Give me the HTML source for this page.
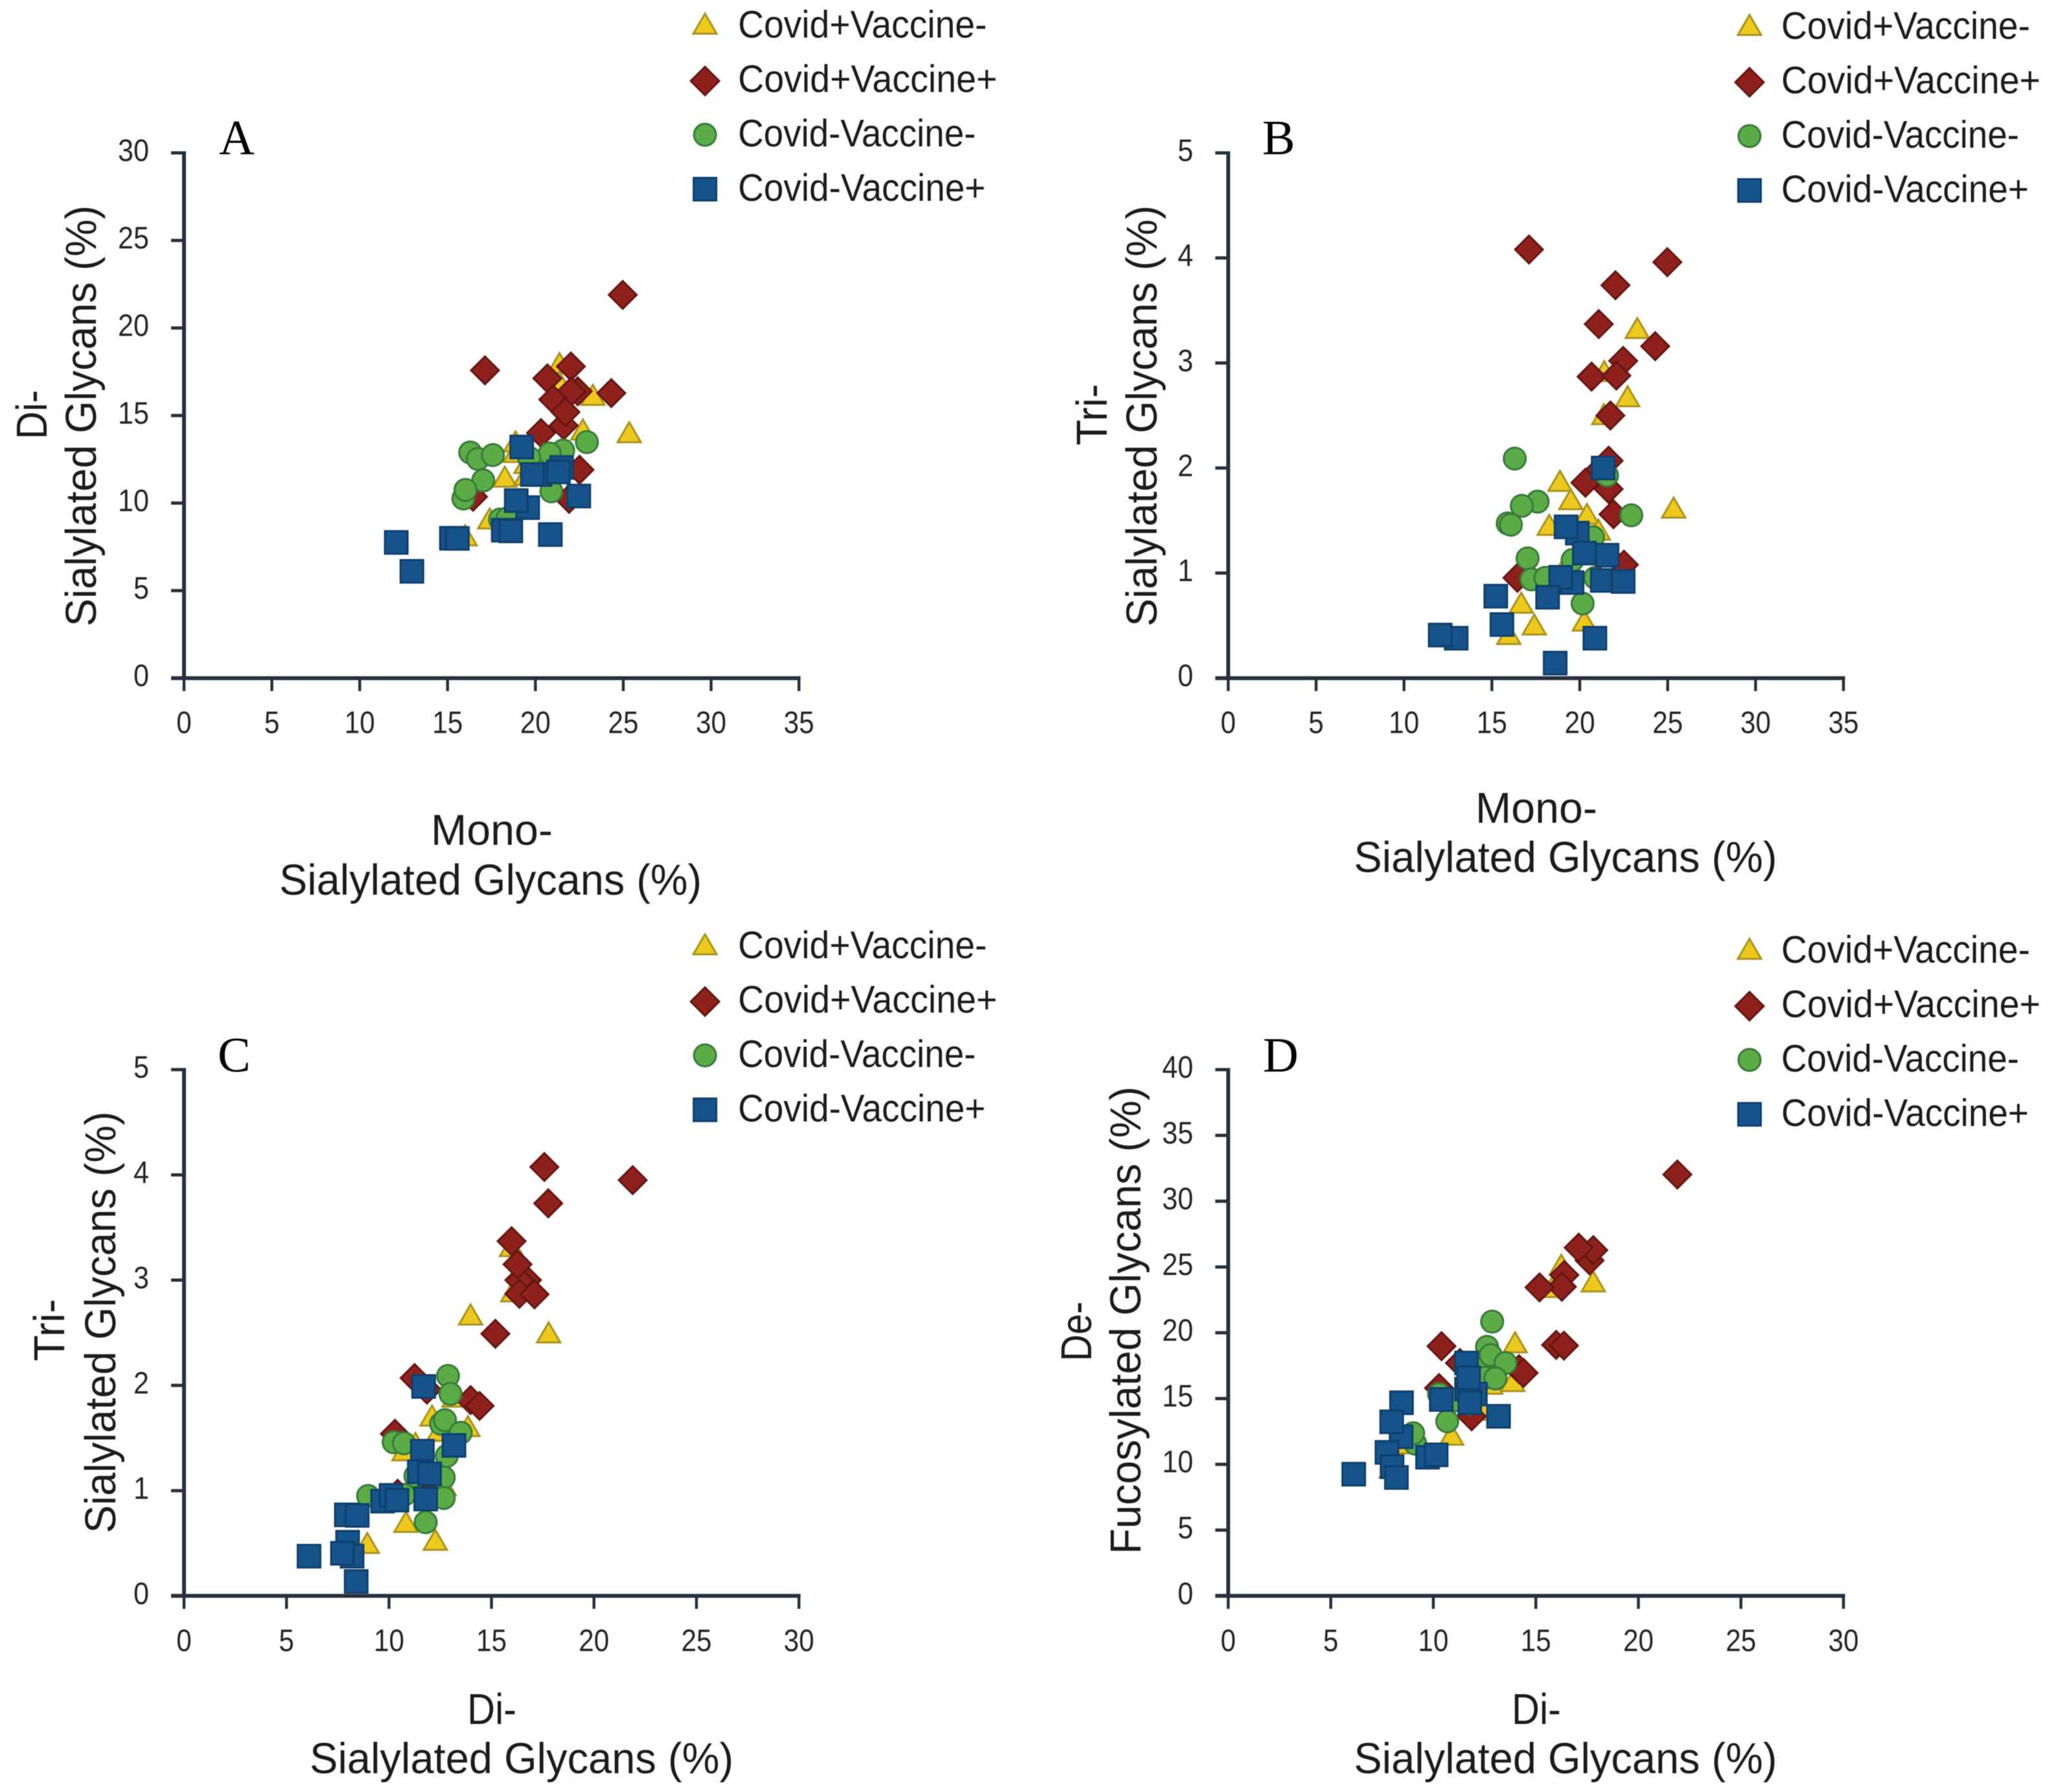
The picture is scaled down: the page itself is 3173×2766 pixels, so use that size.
<!DOCTYPE html>
<html lang="en">
<head>
<meta charset="utf-8">
<title>Sialylated and fucosylated glycan scatter plots</title>
<style>
html,body{margin:0;padding:0;background:#fff;}
svg{display:block;filter:blur(0.6px);}
text{font-family:"Liberation Sans",sans-serif;fill:#1c1c1c;}
.axis-title{font-size:67px;}
.legend-label{font-size:59px;}
.panel-letter{font-family:"Liberation Serif",serif;font-size:76px;fill:#000;}
.tick-label{font-size:48px;fill:#262626;}
.tri{fill:#eec91d;stroke:#a8921f;stroke-width:3;stroke-linejoin:miter;}
.dia{fill:#8f211d;stroke:#641614;stroke-width:3;}
.cir{fill:#5bac47;stroke:#38793a;stroke-width:3;}
.squ{fill:#15538a;stroke:#103f6c;stroke-width:3;}
</style>
</head>
<body>
<svg id="figure" xmlns="http://www.w3.org/2000/svg" width="3173" height="2766" viewBox="0 0 3173 2766">
<rect x="0" y="0" width="3173" height="2766" fill="#ffffff"/>

<g id="panel-a">
  <text class="panel-letter" x="338" y="238">A</text>
  <text class="axis-title" x="759" y="1304" text-anchor="middle" textLength="188" lengthAdjust="spacingAndGlyphs">Mono-</text>
  <text class="axis-title" x="757" y="1381" text-anchor="middle" textLength="652" lengthAdjust="spacingAndGlyphs">Sialylated Glycans (%)</text>
  <text class="axis-title" transform="translate(72,640) rotate(-90)" text-anchor="middle" textLength="76" lengthAdjust="spacingAndGlyphs">Di-</text>
  <text class="axis-title" transform="translate(148,642) rotate(-90)" text-anchor="middle" textLength="650" lengthAdjust="spacingAndGlyphs">Sialylated Glycans (%)</text>
  <g>
    <polygon class="tri" points="1088,21 1106,52 1070,52"/>
    <text class="legend-label" x="1139" y="58" textLength="384" lengthAdjust="spacingAndGlyphs">Covid+Vaccine-</text>
    <polygon class="dia" points="1088,103 1110,125 1088,147 1066,125"/>
    <text class="legend-label" x="1139" y="142" textLength="400" lengthAdjust="spacingAndGlyphs">Covid+Vaccine+</text>
    <circle class="cir" cx="1088" cy="208" r="17"/>
    <text class="legend-label" x="1139" y="226" textLength="367" lengthAdjust="spacingAndGlyphs">Covid-Vaccine-</text>
    <rect class="squ" x="1070.5" y="274.5" width="35" height="35"/>
    <text class="legend-label" x="1139" y="310" textLength="382" lengthAdjust="spacingAndGlyphs">Covid-Vaccine+</text>
  </g>
</g>

<g id="panel-b">
  <text class="panel-letter" x="1948" y="238">B</text>
  <text class="axis-title" x="2371" y="1270" text-anchor="middle" textLength="188" lengthAdjust="spacingAndGlyphs">Mono-</text>
  <text class="axis-title" x="2416" y="1346" text-anchor="middle" textLength="653" lengthAdjust="spacingAndGlyphs">Sialylated Glycans (%)</text>
  <text class="axis-title" transform="translate(1708,640) rotate(-90)" text-anchor="middle" textLength="95" lengthAdjust="spacingAndGlyphs">Tri-</text>
  <text class="axis-title" transform="translate(1785,642) rotate(-90)" text-anchor="middle" textLength="650" lengthAdjust="spacingAndGlyphs">Sialylated Glycans (%)</text>
  <g>
    <polygon class="tri" points="2700,23 2718,54 2682,54"/>
    <text class="legend-label" x="2749" y="60" textLength="384" lengthAdjust="spacingAndGlyphs">Covid+Vaccine-</text>
    <polygon class="dia" points="2700,105 2722,127 2700,149 2678,127"/>
    <text class="legend-label" x="2749" y="144" textLength="400" lengthAdjust="spacingAndGlyphs">Covid+Vaccine+</text>
    <circle class="cir" cx="2700" cy="210" r="17"/>
    <text class="legend-label" x="2749" y="228" textLength="367" lengthAdjust="spacingAndGlyphs">Covid-Vaccine-</text>
    <rect class="squ" x="2682.5" y="276.5" width="35" height="35"/>
    <text class="legend-label" x="2749" y="312" textLength="382" lengthAdjust="spacingAndGlyphs">Covid-Vaccine+</text>
  </g>
</g>

<g id="panel-c">
  <text class="panel-letter" x="336" y="1654">C</text>
  <text class="axis-title" x="759" y="2661" text-anchor="middle" textLength="76" lengthAdjust="spacingAndGlyphs">Di-</text>
  <text class="axis-title" x="805" y="2737" text-anchor="middle" textLength="654" lengthAdjust="spacingAndGlyphs">Sialylated Glycans (%)</text>
  <text class="axis-title" transform="translate(99,2053) rotate(-90)" text-anchor="middle" textLength="96" lengthAdjust="spacingAndGlyphs">Tri-</text>
  <text class="axis-title" transform="translate(178,2041) rotate(-90)" text-anchor="middle" textLength="651" lengthAdjust="spacingAndGlyphs">Sialylated Glycans (%)</text>
  <g>
    <polygon class="tri" points="1088,1442 1106,1473 1070,1473"/>
    <text class="legend-label" x="1139" y="1479" textLength="384" lengthAdjust="spacingAndGlyphs">Covid+Vaccine-</text>
    <polygon class="dia" points="1088,1524 1110,1546 1088,1568 1066,1546"/>
    <text class="legend-label" x="1139" y="1563" textLength="400" lengthAdjust="spacingAndGlyphs">Covid+Vaccine+</text>
    <circle class="cir" cx="1088" cy="1629" r="17"/>
    <text class="legend-label" x="1139" y="1647" textLength="367" lengthAdjust="spacingAndGlyphs">Covid-Vaccine-</text>
    <rect class="squ" x="1070.5" y="1695.5" width="35" height="35"/>
    <text class="legend-label" x="1139" y="1731" textLength="382" lengthAdjust="spacingAndGlyphs">Covid-Vaccine+</text>
  </g>
</g>

<g id="panel-d">
  <text class="panel-letter" x="1949" y="1654">D</text>
  <text class="axis-title" x="2371" y="2661" text-anchor="middle" textLength="76" lengthAdjust="spacingAndGlyphs">Di-</text>
  <text class="axis-title" x="2416" y="2737" text-anchor="middle" textLength="653" lengthAdjust="spacingAndGlyphs">Sialylated Glycans (%)</text>
  <text class="axis-title" transform="translate(1684,2055) rotate(-90)" text-anchor="middle" textLength="92" lengthAdjust="spacingAndGlyphs">De-</text>
  <text class="axis-title" transform="translate(1760,2038) rotate(-90)" text-anchor="middle" textLength="722" lengthAdjust="spacingAndGlyphs">Fucosylated Glycans (%)</text>
  <g>
    <polygon class="tri" points="2700,1449 2718,1480 2682,1480"/>
    <text class="legend-label" x="2749" y="1486" textLength="384" lengthAdjust="spacingAndGlyphs">Covid+Vaccine-</text>
    <polygon class="dia" points="2700,1531 2722,1553 2700,1575 2678,1553"/>
    <text class="legend-label" x="2749" y="1570" textLength="400" lengthAdjust="spacingAndGlyphs">Covid+Vaccine+</text>
    <circle class="cir" cx="2700" cy="1636" r="17"/>
    <text class="legend-label" x="2749" y="1654" textLength="367" lengthAdjust="spacingAndGlyphs">Covid-Vaccine-</text>
    <rect class="squ" x="2682.5" y="1702.5" width="35" height="35"/>
    <text class="legend-label" x="2749" y="1738" textLength="382" lengthAdjust="spacingAndGlyphs">Covid-Vaccine+</text>
  </g>
</g>
</svg>

<script>
// Tick labels
const xTicksMono = [0,5,10,15,20,25,30,35];
const xTicksDi = [0,5,10,15,20,25,30];
const yTicksDi = [0,5,10,15,20,25,30];
const yTicksTri = [0,1,2,3,4,5];
const yTicksDeFuc = [0,5,10,15,20,25,30,35,40];

// Panel A: mono-sialylated (x) vs di-sialylated (y)
const aTriangleX = [25.34,23.27,21.37,21.37,22.70,18.87,18.85,18.26,19.46,19.46,17.40,16.00];
const aTriangleY = [14.03,16.16,17.98,16.90,14.18,13.50,12.90,11.49,12.27,11.60,9.10,8.14];
const aDiamondX = [24.97,17.13,22.02,20.68,22.41,22.04,24.32,21.02,21.61,21.71,20.32,22.51,21.92,16.45];
const aDiamondY = [21.89,17.58,17.80,17.12,16.38,16.37,16.28,15.91,14.43,15.20,14.00,11.90,10.24,10.36];
const aCircleX = [22.93,21.58,16.29,16.73,17.58,20.81,19.65,17.03,15.90,16.02,20.91,17.99,18.42];
const aCircleY = [13.48,13.00,12.89,12.52,12.74,12.83,12.58,11.29,10.26,10.75,10.67,9.06,9.13];
const aSquareX = [19.22,20.26,19.83,21.49,21.31,19.56,18.91,22.47,18.17,18.60,20.85,15.22,15.56,12.08,12.97];
const aSquareY = [13.20,11.63,11.63,12.03,11.78,9.74,10.14,10.40,8.45,8.41,8.20,7.99,7.98,7.75,6.10];

// Panel B: mono-sialylated (x) vs tri-sialylated (y)
const bTriangleX = [23.27,21.39,22.72,21.37,18.87,19.49,20.41,18.26,21.06,19.34,16.67,17.41,20.26,15.96,25.34];
const bTriangleY = [3.33,2.92,2.68,2.51,1.875,1.70,1.56,1.456,1.41,1.12,0.715,0.508,0.545,0.417,1.62];
const bDiamondX = [17.11,24.98,22.03,21.08,24.29,22.47,20.67,22.08,21.74,21.64,21.00,21.64,20.32,21.92,22.51,16.45];
const bDiamondY = [4.08,3.96,3.74,3.37,3.16,3.02,2.87,2.88,2.50,2.07,1.96,1.80,1.86,1.56,1.08,0.955];
const bCircleX = [16.30,17.60,16.70,15.90,16.08,22.93,21.55,20.75,19.59,17.03,17.25,18.05,20.88,20.16];
const bCircleY = [2.09,1.68,1.64,1.473,1.46,1.55,1.93,1.34,1.125,1.14,0.94,0.955,0.955,0.71];
const bSquareX = [21.33,19.86,19.22,20.26,21.55,19.56,18.91,21.28,22.47,18.17,15.22,15.57,12.97,12.06,20.86,18.60];
const bSquareY = [2.00,1.38,1.44,1.19,1.17,0.91,0.96,0.93,0.92,0.77,0.78,0.51,0.38,0.41,0.38,0.143];

// Panel C: di-sialylated (x) vs tri-sialylated (y)
const cTriangleX = [13.98,17.79,15.98,16.04,13.17,12.10,13.85,12.42,11.29,10.73,12.69,10.83,12.26,8.94];
const cTriangleY = [2.67,2.50,3.32,2.89,1.89,1.71,1.61,1.565,1.45,1.38,1.05,0.70,0.53,0.50];
const cDiamondX = [17.58,21.89,17.77,15.98,16.73,16.36,16.27,16.36,17.10,15.19,11.85,11.25,13.98,14.42,10.29,10.42,11.92];
const cDiamondY = [4.075,3.95,3.73,3.37,3.00,3.00,3.15,2.87,2.865,2.49,1.96,2.07,1.86,1.805,1.54,0.97,1.03];
const cCircleX = [12.88,13.00,12.54,12.73,13.50,10.23,10.73,12.82,12.67,11.29,12.67,10.73,8.98,11.79];
const cCircleY = [2.09,1.92,1.635,1.67,1.55,1.46,1.45,1.33,1.125,1.14,0.93,0.96,0.95,0.70];
const cSquareX = [11.69,13.17,11.63,11.48,11.98,9.69,10.10,10.39,11.79,7.92,8.45,7.98,8.20,7.73,6.10,8.40];
const cSquareY = [1.99,1.43,1.375,1.18,1.16,0.90,0.955,0.91,0.92,0.77,0.765,0.51,0.377,0.405,0.377,0.137];

// Panel D: di-sialylated (x) vs de-fucosylated (y)
const dTriangleX = [13.99,17.80,16.24,15.80,13.87,12.80,10.89,12.49,8.30,7.95];
const dTriangleY = [19.25,23.88,25.15,23.45,16.30,16.10,12.23,14.12,11.57,9.73];
const dDiamondX = [21.90,17.62,17.80,17.09,16.39,16.27,15.18,15.99,16.37,10.40,11.30,14.18,14.40,10.28,11.87];
const dDiamondY = [32.03,25.50,26.28,26.47,24.39,23.50,23.45,19.08,19.02,18.98,17.70,17.23,16.95,15.80,13.65];
const dCircleX = [12.87,12.62,12.49,12.80,13.52,12.49,13.03,10.28,11.05,11.80,10.68,9.12,9.02];
const dCircleY = [20.85,18.93,17.80,18.30,17.70,16.57,16.53,15.34,14.87,14.60,13.27,11.57,12.36];
const dSquareX = [11.62,12.05,11.62,11.78,11.72,10.39,13.18,8.45,8.43,7.97,7.74,9.72,10.14,7.99,8.20,6.12];
const dSquareY = [17.70,15.34,15.72,14.68,16.57,14.93,13.65,14.68,12.10,13.23,10.91,10.54,10.72,9.82,9.00,9.25];

const SVG_NS = 'http://www.w3.org/2000/svg';

function make(tag, attrs) {
  const el = document.createElementNS(SVG_NS, tag);
  for (const k in attrs) el.setAttribute(k, attrs[k]);
  return el;
}

function scaleLinear(value, domainMax, start, end) {
  return start + (value / domainMax) * (end - start);
}

function drawTriangle(layer, cx, cy) {
  const pts = (cx) + ',' + (cy - 16) + ' ' + (cx + 18) + ',' + (cy + 15) + ' ' + (cx - 18) + ',' + (cy + 15);
  const el = make('polygon', {points: pts, class: 'tri'});
  
  
  layer.appendChild(el);
}

function drawDiamond(layer, cx, cy) {
  const pts = cx + ',' + (cy - 21.5) + ' ' + (cx + 21.5) + ',' + cy + ' ' + cx + ',' + (cy + 21.5) + ' ' + (cx - 21.5) + ',' + cy;
  const el = make('polygon', {points: pts, class: 'dia'});
  
  
  layer.appendChild(el);
}

function drawCircle(layer, cx, cy) {
  const el = make('circle', {cx: cx, cy: cy, r: 17, class: 'cir'});
  
  
  layer.appendChild(el);
}

function drawSquare(layer, cx, cy) {
  const el = make('rect', {x: cx - 17.5, y: cy - 17.5, width: 35, height: 35, class: 'squ'});
  
  
  layer.appendChild(el);
}

function drawAxes(layer, box, xTicks, yTicks) {
  const axisColor = '#27313d';
  const xMax = xTicks[xTicks.length - 1];
  const yMax = yTicks[yTicks.length - 1];

  const yAxis = make('line', {x1: box.left, x2: box.left, y1: box.top - 2.5, y2: box.bottom, stroke: axisColor, 'stroke-width': 6});
  
  
  layer.appendChild(yAxis);

  const xAxis = make('line', {x1: box.left - 20, x2: box.right + 2.5, y1: box.bottom, y2: box.bottom, stroke: axisColor, 'stroke-width': 6});
  
  
  layer.appendChild(xAxis);

  xTicks.forEach(function (v) {
    const px = scaleLinear(v, xMax, box.left, box.right);
    const tick = make('line', {x1: px, x2: px, y1: box.bottom, y2: box.bottom + 20, stroke: axisColor, 'stroke-width': 4.5});
    
    
    layer.appendChild(tick);

    const label = make('text', {x: px, y: box.bottom + 85, class: 'tick-label', 'text-anchor': 'middle', textLength: String(v).length * 23.5, lengthAdjust: 'spacingAndGlyphs'});
    label.textContent = String(v);
    
    
    layer.appendChild(label);
  });

  yTicks.forEach(function (v) {
    const py = scaleLinear(v, yMax, box.bottom, box.top);
    const tick = make('line', {x1: box.left - 20, x2: box.left, y1: py, y2: py, stroke: axisColor, 'stroke-width': 5});
    
    
    layer.appendChild(tick);

    const label = make('text', {x: box.left - 54, y: py + 12.5, class: 'tick-label', 'text-anchor': 'end', textLength: String(v).length * 24, lengthAdjust: 'spacingAndGlyphs'});
    label.textContent = String(v);
    
    
    layer.appendChild(label);
  });
}

function drawSeries(layer, box, xTicks, yTicks, xs, ys, drawMarker) {
  const xMax = xTicks[xTicks.length - 1];
  const yMax = yTicks[yTicks.length - 1];
  xs.forEach(function (x, i) {
    drawMarker(layer, scaleLinear(x, xMax, box.left, box.right), scaleLinear(ys[i], yMax, box.bottom, box.top));
  });
}

function drawPanel(id, box, xTicks, yTicks, triX, triY, diaX, diaY, cirX, cirY, squX, squY) {
  const layer = document.getElementById(id);
  drawAxes(layer, box, xTicks, yTicks);
  drawSeries(layer, box, xTicks, yTicks, triX, triY, drawTriangle);
  drawSeries(layer, box, xTicks, yTicks, diaX, diaY, drawDiamond);
  drawSeries(layer, box, xTicks, yTicks, cirX, cirY, drawCircle);
  drawSeries(layer, box, xTicks, yTicks, squX, squY, drawSquare);
}

drawPanel('panel-a', {left: 284, right: 1233, top: 236, bottom: 1046.7}, xTicksMono, yTicksDi,
  aTriangleX, aTriangleY, aDiamondX, aDiamondY, aCircleX, aCircleY, aSquareX, aSquareY);
drawPanel('panel-b', {left: 1895.5, right: 2845, top: 236, bottom: 1046.7}, xTicksMono, yTicksTri,
  bTriangleX, bTriangleY, bDiamondX, bDiamondY, bCircleX, bCircleY, bSquareX, bSquareY);
drawPanel('panel-c', {left: 284, right: 1233, top: 1651, bottom: 2463.3}, xTicksDi, yTicksTri,
  cTriangleX, cTriangleY, cDiamondX, cDiamondY, cCircleX, cCircleY, cSquareX, cSquareY);
drawPanel('panel-d', {left: 1895.5, right: 2845, top: 1651, bottom: 2463.3}, xTicksDi, yTicksDeFuc,
  dTriangleX, dTriangleY, dDiamondX, dDiamondY, dCircleX, dCircleY, dSquareX, dSquareY);
</script>
</body>
</html>
